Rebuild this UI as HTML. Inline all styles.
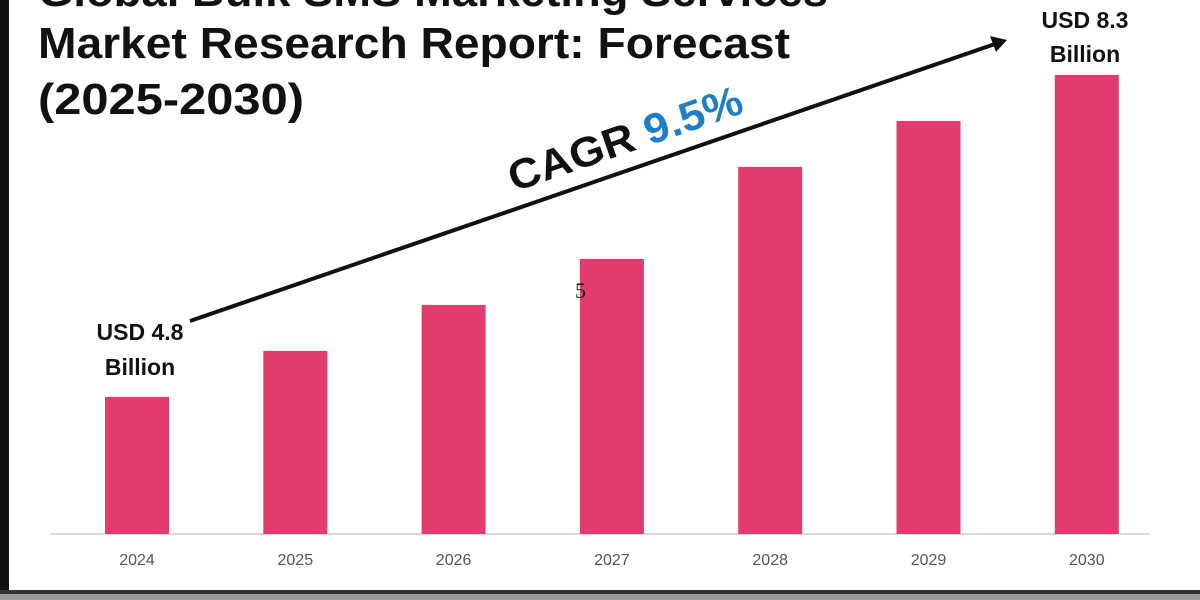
<!DOCTYPE html>
<html><head><meta charset="utf-8"><style>
body{margin:0;width:1200px;height:600px;overflow:hidden;background:#fff;font-family:"Liberation Sans",sans-serif}
svg{display:block}
</style></head><body>
<svg width="1200" height="600">
<rect x="0" y="0" width="9" height="600" fill="#111"/>
<rect x="0" y="590" width="1200" height="4" fill="#333"/>
<rect x="0" y="594" width="1200" height="6" fill="#999"/>
<g font-weight="bold" font-size="44" fill="#111">
<text x="38" y="6" textLength="790" lengthAdjust="spacingAndGlyphs">Global Bulk SMS Marketing Services</text>
<text x="38" y="58" textLength="752" lengthAdjust="spacingAndGlyphs">Market Research Report: Forecast</text>
<text x="38" y="114" textLength="266" lengthAdjust="spacingAndGlyphs">(2025-2030)</text>
</g>
<line x1="50" y1="534" x2="1150" y2="534" stroke="#ccc" stroke-width="1.5"/>
<g id="bars"></g>
<line x1="190" y1="321" x2="995" y2="44" stroke="#111" stroke-width="4"/>
<polygon points="1007,40 990,36 996,52" fill="#111"/>
<text transform="translate(514,192) rotate(-19)" font-size="42" font-weight="bold" textLength="245" lengthAdjust="spacingAndGlyphs"><tspan fill="#111">CAGR </tspan><tspan fill="#1f7fc4">9.5%</tspan></text>
<g font-weight="bold" font-size="23" fill="#111" text-anchor="middle">
<text x="140" y="340">USD 4.8</text>
<text x="140" y="375">Billion</text>
<text x="1085" y="28">USD 8.3</text>
<text x="1085" y="62">Billion</text>
</g>
<text x="575" y="298" font-family="Liberation Serif,serif" font-size="22" fill="#111">5</text>
</svg>
<script>
const categories=["2024","2025","2026","2027","2028","2029","2030"];
const values=[4.8,5.3,5.8,6.3,7.3,7.8,8.3];
const baseY=534, pxPerUnit=92, domainMin=3.31;
function yScale(v){return baseY-(v-domainMin)*pxPerUnit;}
function xScale(i){return 137+i*158.3;}
const g=document.getElementById('bars');
const NS="http://www.w3.org/2000/svg";
categories.forEach((c,i)=>{
 const r=document.createElementNS(NS,'rect');
 const y=yScale(values[i]);
 r.setAttribute('x',xScale(i)-32);r.setAttribute('y',y);
 r.setAttribute('width',64);r.setAttribute('height',baseY-y);
 r.setAttribute('fill','#e23c6e');
 
 
 g.appendChild(r);
 const t=document.createElementNS(NS,'text');
 t.setAttribute('x',xScale(i));t.setAttribute('y',565);
 t.setAttribute('text-anchor','middle');t.setAttribute('font-size','16');t.setAttribute('fill','#555');
 t.textContent=c;
 
 
 g.appendChild(t);
});
</script>
</body></html>
